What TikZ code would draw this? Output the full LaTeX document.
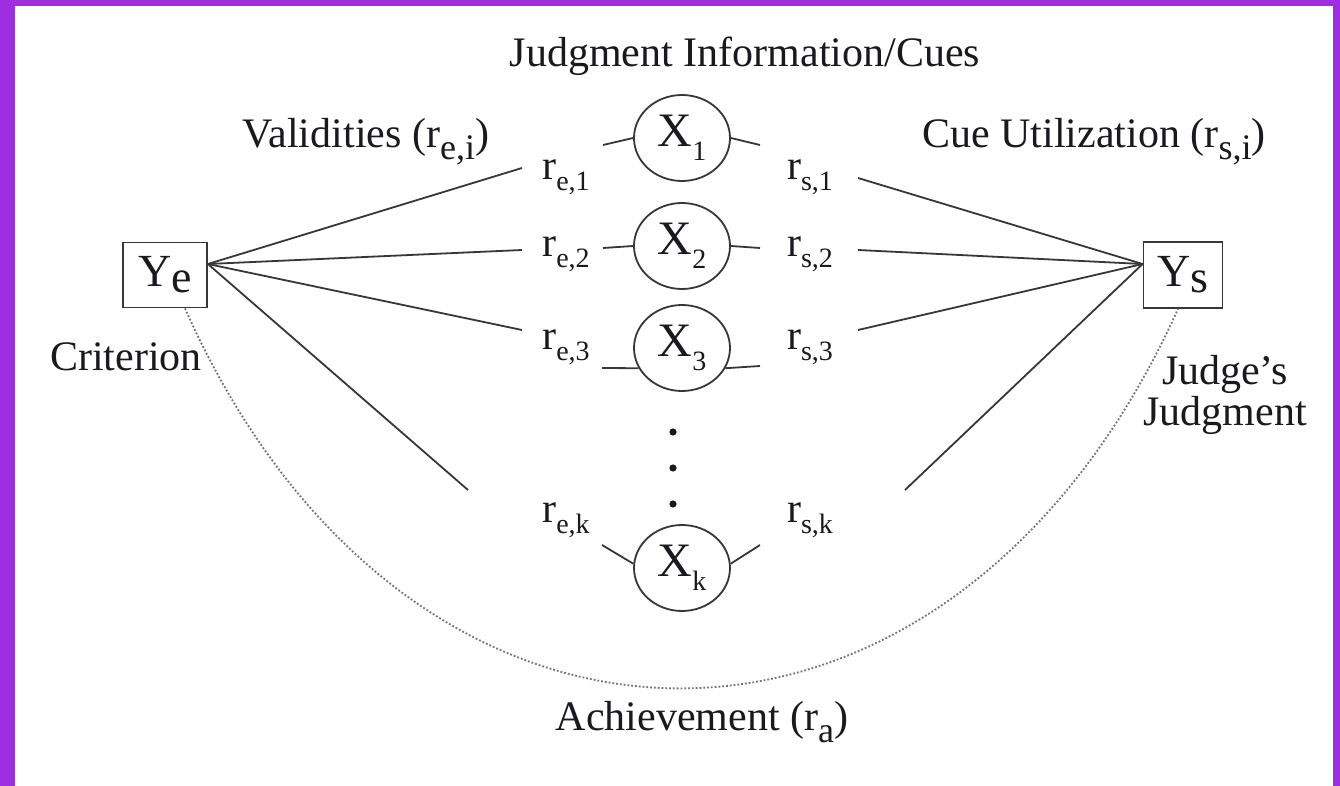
\documentclass[tikz,border=0pt]{standalone}
\usepackage{fontspec}
\setmainfont{Liberation Serif}
\usetikzlibrary{calc,shapes.geometric}
\definecolor{frame}{RGB}{158,46,226}
\definecolor{ink}{RGB}{25,25,32}
\definecolor{edge}{RGB}{55,55,55}
\definecolor{dotc}{RGB}{115,115,115}
% r with lowered subscript
\newcommand\rsub[1]{r\raisebox{-5.5pt}{\fontsize{14}{14}\selectfont #1}}
\newcommand\bigsub[1]{\raisebox{-6pt}{\fontsize{18}{18}\selectfont #1}}
\newcommand\Xsub[1]{X\raisebox{-7pt}{\fontsize{14}{14}\selectfont #1}}
\begin{document}
\begin{tikzpicture}[x=0.5pt,y=-0.5pt,
  lbl/.style={font=\fontsize{21}{15}\selectfont, text=ink, inner sep=0pt},
  rlbl/.style={font=\fontsize{21}{22}\selectfont, text=ink, inner sep=0pt},
  cue/.style={ellipse, draw=edge, line width=0.9pt, minimum width=48pt, minimum height=43pt, inner sep=0pt, font=\fontsize{24}{24}\selectfont, text=ink},
  var/.style={rectangle, draw=edge, line width=0.9pt, inner sep=0pt, font=\fontsize{23}{24}\selectfont, text=ink},
  link/.style={draw=edge, line width=0.9pt},
  ach/.style={draw=dotc, line width=0.9pt, densely dotted}]
% frame
\fill[frame] (0,0) rectangle (1340,786);
\fill[white] (15,6) rectangle (1333,786);
\useasboundingbox (0,0) rectangle (1340,786);

% boxes
\node[var, minimum width=42pt, minimum height=32.5pt] (Ye) at (165,275) {Y\raisebox{-3pt}{e}};
\node[var, minimum width=39.5pt, minimum height=33pt] (Ys) at (1183,275) {Y\raisebox{-3pt}{s}};
\coordinate (Yeo) at ($(Ye.east)+(0,-11)$);
\coordinate (Ysi) at ($(Ys.west)+(0,-11)$);

% cues
\node[cue] (X1) at (682,138) {\Xsub{1}};
\node[cue] (X2) at (682,246) {\Xsub{2}};
\node[cue] (X3) at (682,348) {\Xsub{3}};
\node[cue] (Xk) at (682,568) {\Xsub{k}};
\foreach \yy in {432,468,504}
  \fill[ink] (673,\yy) circle (1.8pt);

% r labels
\node[rlbl] (re1) at (566,177) {\rsub{e,1}};
\node[rlbl] (re2) at (566,254) {\rsub{e,2}};
\node[rlbl] (re3) at (566,347) {\rsub{e,3}};
\node[rlbl] (rek) at (566,520) {\rsub{e,k}};
\node[rlbl] (rs1) at (810,177) {\rsub{s,1}};
\node[rlbl] (rs2) at (810,254) {\rsub{s,2}};
\node[rlbl] (rs3) at (810,347) {\rsub{s,3}};
\node[rlbl] (rsk) at (810,520) {\rsub{s,k}};

% connector ends next to the labels
\coordinate (pe1) at (522,168);
\coordinate (pe2) at (522,250);
\coordinate (pe3) at (522,330);
\coordinate (pek) at (468,490);
\coordinate (ps1) at (858,178);
\coordinate (ps2) at (858,250);
\coordinate (ps3) at (858,330);
\coordinate (psk) at (905,490);
\coordinate (qe1) at (603,145);
\coordinate (qe2) at (603,248);
\coordinate (qe3) at (602,368);
\coordinate (qek) at (602,545);
\coordinate (qs1) at (760,145);
\coordinate (qs2) at (760,248);
\coordinate (qs3) at (760,366);
\coordinate (qsk) at (760,545);

% long links
\foreach \p in {pe1,pe2,pe3,pek} \draw[link] (Yeo) -- (\p);
\foreach \p in {ps1,ps2,ps3,psk} \draw[link] (\p) -- (Ysi);
% short links
\draw[link] (qe1) -- (X1.west);
\draw[link] (X1.east) -- (qs1);
\draw[link] (qe2) -- (X2.west);
\draw[link] (X2.east) -- (qs2);
\draw[link] (qe3) -- (X3.205);
\draw[link] (X3.-25) -- (qs3);
\draw[link] (qek) -- (Xk.175);
\draw[link] (Xk.5) -- (qsk);

% achievement curve
\draw[ach] ($(Ye.south)+(20,0)$) .. controls (410,815) and (950,815) .. ($(Ys.south)+(-5,0)$);

% labels
\node[lbl] (title) at (745,56) {Judgment Information/Cues};
\node[lbl] (valid) at (366,142) {Validities (r\bigsub{e,i})};
\node[lbl] (cueu) at (1094,142) {Cue Utilization (r\bigsub{s,i})};
\node[lbl] (crit) at (126,357) {Criterion};
\node[lbl, align=center] (judge) at (1225,395) {Judge’s\\Judgment};
\node[lbl] (achl) at (702,722) {Achievement (r\bigsub{a})};
\end{tikzpicture}
\end{document}
